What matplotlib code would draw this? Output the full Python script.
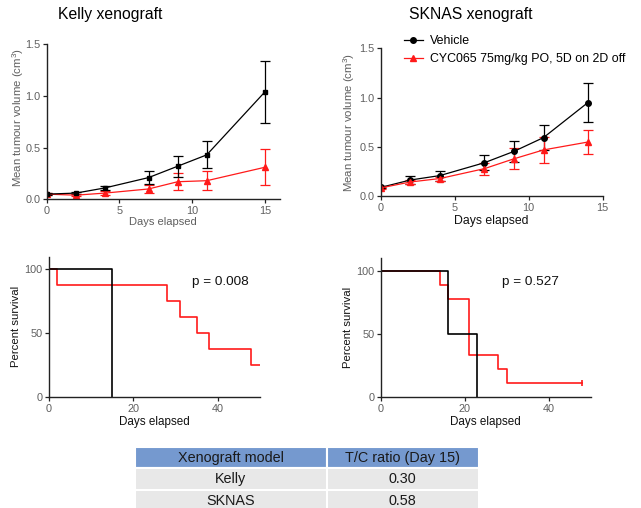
# ===================================================================== #
#                         IMPORTING MODULES                             #
# ===================================================================== #
import matplotlib
matplotlib.use("Agg")
import matplotlib.pyplot as plt

plt.rcParams['font.family'] = ['Liberation Sans', 'DejaVu Sans']
plt.rcParams['mathtext.default'] = 'regular'

# ===================================================================== #
#                               DATA                                    #
# ===================================================================== #
kelly_days = [0, 2, 4, 7, 9, 11, 15]
kelly_veh = [0.05, 0.06, 0.11, 0.21, 0.32, 0.43, 1.04]
kelly_veh_err = [0.01, 0.01, 0.02, 0.06, 0.10, 0.13, 0.30]
kelly_cyc = [0.05, 0.04, 0.06, 0.10, 0.17, 0.18, 0.31]
kelly_cyc_err = [0.01, 0.01, 0.02, 0.035, 0.08, 0.09, 0.175]

sknas_days = [0, 2, 4, 7, 9, 11, 14]
sknas_veh = [0.09, 0.165, 0.21, 0.34, 0.455, 0.595, 0.95]
sknas_veh_err = [0.01, 0.04, 0.05, 0.075, 0.11, 0.125, 0.20]
sknas_cyc = [0.085, 0.145, 0.18, 0.28, 0.38, 0.47, 0.55]
sknas_cyc_err = [0.01, 0.02, 0.02, 0.06, 0.105, 0.135, 0.125]

# Kaplan-Meier steps
kelly_veh_t = [0, 15]
kelly_veh_s = [100, 0]
kelly_cyc_t = [0, 2, 28, 31, 35, 38, 48, 50]
kelly_cyc_s = [100, 87.5, 75, 62.5, 50, 37.5, 25, 25]

sknas_veh_t = [0, 16, 23]
sknas_veh_s = [100, 50, 0]
sknas_cyc_t = [0, 14, 16, 21, 28, 30, 48]
sknas_cyc_s = [100, 88.9, 77.8, 33.3, 22.2, 11.1, 11.1]

p_values = ["p = 0.008", "p = 0.527"]

table_header = ["Xenograft model", "T/C ratio (Day 15)"]
table_models = ["Kelly", "SKNAS"]
table_ratios = ["0.30", "0.58"]

veh_label = "Vehicle"
cyc_label = "CYC065 75mg/kg PO, 5D on 2D off"

GRAY = '#5f5f5f'
RED = '#ff1a1a'

W, H = 641, 508


def px_axes(fig, x0, x1, y_top, y_bot):
    return fig.add_axes([x0 / W, 1 - y_bot / H, (x1 - x0) / W, (y_bot - y_top) / H])


def style(ax, tick_color=GRAY):
    ax.spines['top'].set_visible(False)
    ax.spines['right'].set_visible(False)
    for s in ['left', 'bottom']:
        ax.spines[s].set_linewidth(1.0)
        ax.spines[s].set_color('#222222')
    ax.tick_params(direction='out', length=3, width=0.9, pad=1.5,
                   labelsize=7.8, colors='#222222', labelcolor=tick_color)


fig = plt.figure(figsize=(W / 100, H / 100), dpi=100)

# ===================================================================== #
#                        TUMOUR VOLUME PANELS                           #
# ===================================================================== #
ax1 = px_axes(fig, 46.7, 279.5, 44.3, 199.3)
ax1.errorbar(kelly_days, kelly_cyc, yerr=kelly_cyc_err, color=RED, marker='^',
             ms=4, lw=0.9, capsize=3.5, elinewidth=0.9, capthick=0.9)
ax1.errorbar(kelly_days, kelly_veh, yerr=kelly_veh_err, color='black', marker='s',
             ms=3.5, lw=0.9, capsize=3.5, elinewidth=0.9, capthick=0.9)
ax1.set_xlim(0, 16)
ax1.set_ylim(0, 1.5)
ax1.set_xticks([0, 5, 10, 15])
ax1.set_yticks([0, 0.5, 1.0, 1.5])
ax1.set_yticklabels(['0.0', '0.5', '1.0', '1.5'])
style(ax1)
ax1.set_xlabel("Days elapsed", fontsize=8, color=GRAY, labelpad=1)
ax1.set_ylabel("Mean tumour volume (cm$^3$)", fontsize=8.2, color=GRAY)
ax1.yaxis.set_label_coords(-0.088, 0.53)

ax2 = px_axes(fig, 380.7, 602.7, 48.3, 196.3)
ax2.errorbar(sknas_days, sknas_veh, yerr=sknas_veh_err, color='black', marker='o',
             ms=4, lw=0.9, capsize=3.5, elinewidth=0.9, capthick=0.9, label=veh_label)
ax2.errorbar(sknas_days, sknas_cyc, yerr=sknas_cyc_err, color=RED, marker='^',
             ms=4, lw=0.9, capsize=3.5, elinewidth=0.9, capthick=0.9, label=cyc_label)
ax2.set_xlim(0, 15)
ax2.set_ylim(0, 1.5)
ax2.set_xticks([0, 5, 10, 15])
ax2.set_yticks([0, 0.5, 1.0, 1.5])
ax2.set_yticklabels(['0.0', '0.5', '1.0', '1.5'])
style(ax2)
ax2.set_xlabel("Days elapsed", fontsize=8.8, color='#111111', labelpad=2)
ax2.set_ylabel("Mean tumour volume (cm$^3$)", fontsize=8.2, color=GRAY)
ax2.yaxis.set_label_coords(-0.108, 0.5)

handles, labels = ax2.get_legend_handles_labels()
handles = [h[0] for h in handles]
fig.legend(handles, labels, loc='upper left', bbox_to_anchor=(404 / W, 1 - 35 / H),
           frameon=False, fontsize=8.9, handlelength=1.5, handletextpad=0.6,
           labelspacing=0.5, borderpad=0, borderaxespad=0)

fig.text(110 / W, 1 - 14 / H, "Kelly xenograft", fontsize=11.3, ha='center', va='center')
fig.text(471 / W, 1 - 14 / H, "SKNAS xenograft", fontsize=11.3, ha='center', va='center')

# ===================================================================== #
#                          SURVIVAL PANELS                              #
# ===================================================================== #
ax3 = px_axes(fig, 49, 259.8, 256.5, 397.3)
ax3.step(kelly_cyc_t, kelly_cyc_s, where='post', color=RED, lw=1.2)
ax3.step(kelly_veh_t, kelly_veh_s, where='post', color='black', lw=1.2)
ax3.set_xlim(0, 50)
ax3.set_ylim(0, 110)
ax3.set_xticks([0, 20, 40])
ax3.set_yticks([0, 50, 100])
style(ax3)
ax3.set_xlabel("Days elapsed", fontsize=8.4, color='#111111', labelpad=2)
ax3.set_ylabel("Percent survival", fontsize=8.2, color='#111111')
ax3.yaxis.set_label_coords(-0.135, 0.5)
ax3.text(34, 90, p_values[0], fontsize=9.7, va='center', color='#111111')

ax4 = px_axes(fig, 380.7, 590.7, 258, 397.3)
ax4.step(sknas_cyc_t, sknas_cyc_s, where='post', color=RED, lw=1.2)
ax4.plot(sknas_cyc_t[-1:], sknas_cyc_s[-1:], marker='|', ms=4, mew=1.2, color=RED)
ax4.step(sknas_veh_t, sknas_veh_s, where='post', color='black', lw=1.2)
ax4.set_xlim(0, 50)
ax4.set_ylim(0, 110)
ax4.set_xticks([0, 20, 40])
ax4.set_yticks([0, 50, 100])
style(ax4)
ax4.set_xlabel("Days elapsed", fontsize=8.4, color='#111111', labelpad=2)
ax4.set_ylabel("Percent survival", fontsize=8.2, color='#111111')
ax4.yaxis.set_label_coords(-0.13, 0.5)
ax4.text(29, 91, p_values[1], fontsize=9.7, va='center', color='#111111')

# ===================================================================== #
#                              TABLE                                    #
# ===================================================================== #
ax5 = px_axes(fig, 135, 479, 446.7, 512)
ax5.axis('off')
cells = [[m, r] for m, r in zip(table_models, table_ratios)]
tbl = ax5.table(cellText=cells, colLabels=table_header, cellLoc='center',
                colWidths=[0.557, 0.443], bbox=[0, 0, 1, 1])
tbl.auto_set_font_size(False)
for (r, c), cell in tbl.get_celld().items():
    cell.set_edgecolor('white')
    cell.set_linewidth(1.5)
    cell.set_facecolor('#7599cf' if r == 0 else '#e8e8e8')
    cell.get_text().set_fontsize(10.4)
    cell.get_text().set_color('#1a1a1a')

fig.savefig("out.png", dpi=100)
